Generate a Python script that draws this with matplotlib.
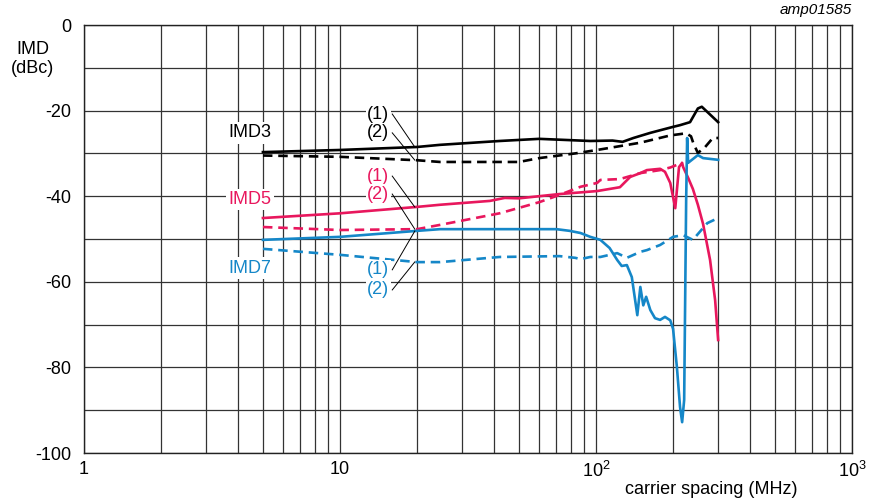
import matplotlib
matplotlib.use("Agg")
import matplotlib.pyplot as plt
from matplotlib.ticker import LogLocator, MultipleLocator, FixedLocator, NullFormatter
import numpy as np

plt.rcParams["font.family"] = ["Liberation Sans", "DejaVu Sans"]
plt.rcParams["axes.unicode_minus"] = False

BLACK = "#000000"
RED = "#E8175D"
BLUE = "#1587C8"
FS = 13

# carrier spacing (MHz) / IMD (dBc)
imd3_1_x = [5, 10, 20, 24.6, 42, 60, 95, 116, 127, 140, 163, 200, 213, 233, 250, 259, 300]
imd3_1_y = [-29.7, -29.2, -28.5, -28.0, -27.1, -26.6, -27.1, -27.0, -27.3, -26.4, -25.2,
            -23.8, -23.4, -22.7, -19.5, -19.1, -22.7]

imd3_2_x = [5, 10, 20, 24.6, 50, 60, 83, 101, 149, 195, 225, 235, 240, 250, 267, 286, 300]
imd3_2_y = [-30.5, -30.8, -31.6, -32.0, -32.0, -31.1, -30.0, -29.2, -27.5, -25.8, -25.3,
            -26.0, -27.6, -29.9, -28.5, -26.4, -26.4]

imd5_1_x = [5, 10, 20, 24.6, 38.5, 44, 50, 72, 101, 124, 136, 149, 158, 178, 186, 195,
            204, 207, 211, 217, 219, 229, 239, 250, 262, 279, 292, 300]
imd5_1_y = [-45.1, -44.0, -42.5, -42.0, -41.1, -40.4, -40.5, -39.5, -38.8, -37.9, -35.5,
            -34.6, -33.9, -33.6, -34.3, -36.9, -42.8, -38.6, -33.2, -32.2, -33.2, -35.7,
            -38.3, -42.0, -46.5, -54.9, -64.3, -73.6]

imd5_2_x = [5, 10, 20, 24.6, 42, 60, 72, 87, 101, 104, 124, 149, 178, 195, 217]
imd5_2_y = [-47.2, -47.9, -47.7, -46.7, -44.0, -41.4, -39.7, -37.8, -36.9, -36.2, -36.0,
            -34.6, -33.9, -33.3, -32.2]

imd7_1_x = [5, 10, 20, 24.6, 70, 79, 87, 95, 104, 113, 121, 126, 132, 138, 145, 149, 153,
            157, 163, 170, 178, 186, 195, 200, 207, 213, 217, 221, 225, 227, 229, 250, 262, 300]
imd7_1_y = [-50.2, -49.5, -48.1, -47.7, -47.7, -48.1, -48.6, -49.5, -50.2, -52.1, -54.9,
            -56.3, -56.1, -58.9, -67.8, -61.2, -65.5, -63.5, -66.6, -68.5, -68.9, -68.2,
            -69.0, -71.0, -79.9, -89.3, -92.8, -87.6, -40.9, -26.4, -32.2, -30.4, -31.1, -31.5]

imd7_2_x = [5, 10, 20, 24.6, 42, 72, 83, 87, 95, 104, 121, 132, 149, 158, 178, 200, 219,
            239, 272, 300]
imd7_2_y = [-52.3, -53.7, -55.4, -55.4, -54.2, -54.0, -54.4, -54.7, -54.2, -54.2, -53.3,
            -54.4, -53.0, -52.6, -51.4, -49.5, -49.1, -50.2, -46.3, -45.1]

# labels: group name y and (1)/(2) marker y for each group
group_names = ["IMD3", "IMD5", "IMD7"]
group_label_y = [-25.2, -40.7, -56.8]
marker_label_y = [(-20.8, -25.2), (-35.3, -39.5), (-57.2, -61.9)]

fig = plt.figure(figsize=(8.7, 5.04), dpi=100)
ax = fig.add_axes([84 / 870, 51 / 504, 768 / 870, 428 / 504])

DASH = (0, (3.6, 2.2))
series = [
    (imd3_1_x, imd3_1_y, BLACK, "-"),
    (imd3_2_x, imd3_2_y, BLACK, DASH),
    (imd5_1_x, imd5_1_y, RED, "-"),
    (imd5_2_x, imd5_2_y, RED, DASH),
    (imd7_1_x, imd7_1_y, BLUE, "-"),
    (imd7_2_x, imd7_2_y, BLUE, DASH),
]
for xs, ys, c, ls in series:
    ax.plot(xs, ys, color=c, linestyle=ls, lw=1.9, zorder=3)

ax.set_xscale("log")
ax.set_xlim(1, 1000)
ax.set_ylim(-100, 0)
ax.xaxis.set_major_locator(FixedLocator([1, 10, 100, 1000]))
ax.xaxis.set_minor_locator(LogLocator(base=10, subs=np.arange(2, 10)))
ax.xaxis.set_minor_formatter(NullFormatter())
ax.set_xticklabels(["1", "10", r"$\mathregular{10^2}$", r"$\mathregular{10^3}$"])
ax.yaxis.set_major_locator(MultipleLocator(20))
ax.yaxis.set_minor_locator(MultipleLocator(10))
ax.set_yticklabels([f"{int(v)}" for v in ax.get_yticks()])
ax.tick_params(which="both", length=0, labelsize=FS)
ax.tick_params(axis="x", pad=6)
ax.tick_params(axis="y", pad=9)
ax.grid(which="both", color="#333333", lw=0.9, zorder=1)
for s in ax.spines.values():
    s.set_linewidth(1.0)
    s.set_color("#222222")

colors = [BLACK, RED, BLUE]
curve_pairs = [(series[0], series[1]), (series[2], series[3]), (series[4], series[5])]
x_name = 4.45
x_mark = 14.1
x_from = 16.0
x_to = 19.6
for i, name in enumerate(group_names):
    c = colors[i]
    ax.text(x_name, group_label_y[i], name, color=c, fontsize=FS, ha="center", va="center",
            bbox=dict(facecolor="white", edgecolor="none", pad=1.5), zorder=4)
    for j, lab in enumerate(["(1)", "(2)"]):
        ty = marker_label_y[i][j]
        ax.text(x_mark, ty, lab, color=c, fontsize=FS, ha="center", va="center",
                bbox=dict(facecolor="white", edgecolor="none", pad=1.0), zorder=4)
        xs, ys = curve_pairs[i][j][0], curve_pairs[i][j][1]
        cy = np.interp(np.log10(x_to), np.log10(xs), ys)
        ax.plot([x_from, x_to], [ty, cy], color="black", lw=0.7, zorder=5)

fig.text(33 / 870, 1 - 59 / 504, "IMD\n(dBc)", ha="center", va="center", fontsize=FS,
         linespacing=1.15)
fig.text(852 / 870, 1 - 10 / 504, "amp01585", ha="right", va="center", fontsize=11,
         style="italic")
fig.text(711 / 870, 1 - 490 / 504, "carrier spacing (MHz)", ha="center", va="center",
         fontsize=FS)

fig.savefig("out.png", dpi=100)
